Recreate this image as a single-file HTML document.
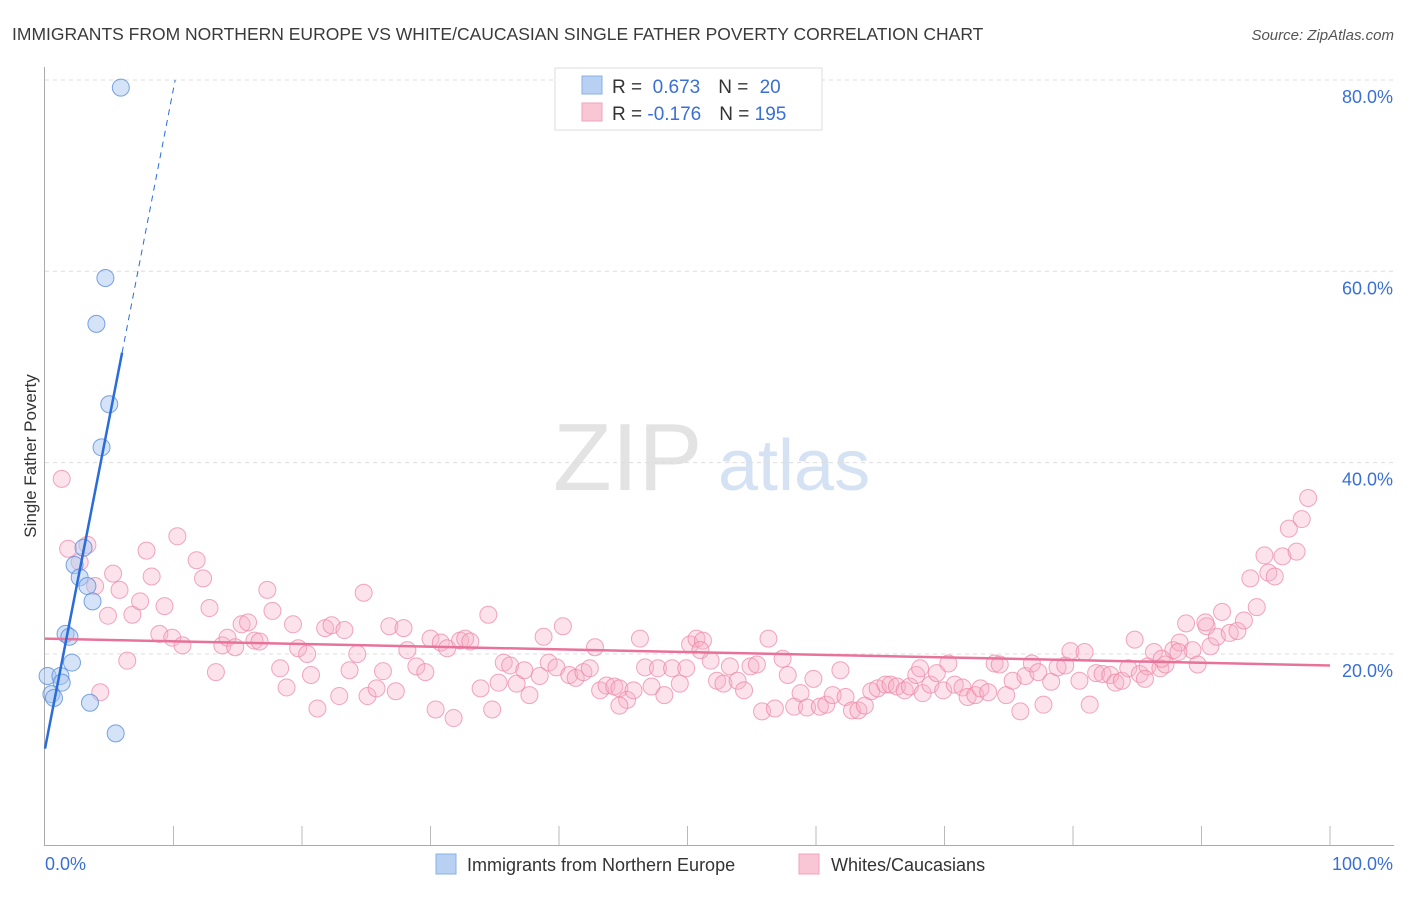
<!DOCTYPE html>
<html><head><meta charset="utf-8"><style>
body{margin:0;background:#fff;font-family:"Liberation Sans",sans-serif}
svg text{font-family:"Liberation Sans",sans-serif}
</style></head><body>
<svg id="chart" width="1406" height="892" viewBox="0 0 1406 892" xmlns="http://www.w3.org/2000/svg">
<text x="12" y="40" font-size="17.5" fill="#3a3a3a">IMMIGRANTS FROM NORTHERN EUROPE VS WHITE/CAUCASIAN SINGLE FATHER POVERTY CORRELATION CHART</text>
<text x="1394" y="40" font-size="15" fill="#555" font-style="italic" text-anchor="end">Source: ZipAtlas.com</text>
<g>
<text x="553" y="490" font-size="96" fill="#e3e3e3" font-family="Liberation Serif,serif">ZIP</text>
<text x="718" y="490" font-size="72" fill="#d4e2f3">atlas</text>
</g>
<g id="grid"></g>
<g id="axes"></g>
<g id="pts"></g>
<g id="lines"></g>
<text x="36" y="456" font-size="17" fill="#333" text-anchor="middle" transform="rotate(-90 36 456)">Single Father Poverty</text>
<g>
<rect x="555" y="68" width="267" height="62" fill="#fff" stroke="#ddd"/>
<rect x="582" y="76" width="20" height="18" fill="#b8d1f3" stroke="#8ab0e6"/>
<rect x="582" y="103" width="20" height="18" fill="#f9c6d5" stroke="#f2a3bb"/>
<text x="612" y="93" font-size="19" fill="#333">R = <tspan fill="#3a6fd6">&#160;0.673</tspan><tspan dx="18">N = </tspan><tspan fill="#3a6fd6" dx="6">20</tspan></text>
<text x="612" y="120" font-size="19" fill="#333">R = <tspan fill="#3a6fd6">-0.176</tspan><tspan dx="18">N = </tspan><tspan fill="#3a6fd6">195</tspan></text>
</g>
<g>
<rect x="436" y="854" width="20" height="20" fill="#b8d1f3" stroke="#8ab0e6"/>
<text x="467" y="871" font-size="18" fill="#333">Immigrants from Northern Europe</text>
<rect x="799" y="854" width="20" height="20" fill="#f9c6d5" stroke="#f2a3bb"/>
<text x="831" y="871" font-size="18" fill="#333">Whites/Caucasians</text>
</g>
</svg>
<script>
const blueX=[5.9,4.7,4.0,5.0,4.4,3.0,2.3,2.7,3.3,3.7,1.6,1.9,2.1,0.2,1.2,1.3,0.5,0.7,3.5,5.5];
const blueY=[79.2,59.3,54.5,46.1,41.6,31.1,29.3,28.0,27.1,25.5,22.1,21.8,19.1,17.7,17.7,17.0,15.8,15.4,14.9,11.7];
const pinkX=[1.3,1.8,3.3,2.7,3.9,4.3,4.9,5.3,5.8,6.4,6.8,7.4,7.9,8.3,8.9,9.3,9.9,10.3,10.7,11.8,12.3,12.8,13.3,13.8,14.2,14.8,15.3,15.8,16.3,16.7,17.3,17.7,18.3,18.8,19.3,19.7,20.4,20.7,21.2,21.8,22.3,22.9,23.3,23.7,24.3,24.8,25.1,25.8,26.3,26.8,27.3,27.9,28.2,28.9,29.6,30.0,30.4,30.8,31.3,31.8,32.3,32.7,33.1,33.9,34.5,34.8,35.3,35.7,36.2,36.7,37.3,37.7,38.5,38.8,39.2,39.8,40.3,40.8,41.3,41.9,42.4,42.8,43.2,43.7,44.3,44.7,45.3,45.8,46.3,46.7,47.2,47.7,48.2,48.8,49.4,49.9,50.2,50.7,51.2,51.8,52.3,52.8,53.3,53.9,54.4,54.9,55.4,55.8,56.3,56.8,57.4,57.8,58.3,58.8,59.3,59.8,60.3,60.8,61.3,61.9,62.3,62.8,63.3,63.8,64.3,64.8,65.4,65.8,66.3,66.9,67.3,67.8,68.3,68.9,69.4,69.9,70.3,70.8,71.4,71.8,72.4,72.8,73.4,73.9,74.3,74.8,75.3,75.9,76.3,76.8,77.3,77.7,78.3,78.8,79.4,79.8,80.5,81.3,81.8,82.3,82.9,83.3,83.8,84.3,84.8,85.2,85.8,86.3,86.8,87.2,87.8,88.3,88.8,89.3,89.7,90.4,90.7,91.2,91.6,92.2,92.8,93.3,93.8,94.3,94.9,95.2,95.7,96.3,96.8,97.4,97.8,98.3,90.3,86.9,88.2,80.9,85.6,68.1,51.0,44.7];
const pinkY=[38.3,31.0,31.4,29.6,27.1,16.0,24.0,28.4,26.7,19.3,24.1,25.5,30.8,28.1,22.1,25.0,21.7,32.3,20.9,29.8,27.9,24.8,18.1,20.9,21.7,20.7,23.1,23.3,21.4,21.3,26.7,24.5,18.5,16.5,23.1,20.6,20.0,17.8,14.3,22.7,23.0,15.6,22.5,18.3,20.0,26.4,15.6,16.4,18.2,22.9,16.1,22.7,20.4,18.7,18.1,21.6,14.2,21.2,20.6,13.3,21.4,21.6,21.3,16.4,24.1,14.2,17.0,19.1,18.8,16.9,18.3,15.7,17.7,21.8,19.1,18.6,22.9,17.8,17.5,18.1,18.5,20.7,16.2,16.7,16.6,16.4,15.2,16.2,21.6,18.6,16.6,18.5,15.7,18.5,16.9,18.5,21.0,21.6,21.4,19.3,17.2,16.9,18.7,17.2,16.2,18.7,18.9,14.0,21.6,14.3,19.5,17.8,14.5,15.9,14.4,17.4,14.5,14.7,15.7,18.3,15.5,14.1,14.1,14.6,16.1,16.4,16.8,16.8,16.6,16.2,16.6,17.8,15.9,16.8,18.0,16.2,19.0,16.8,16.5,15.5,15.7,16.4,16.0,19.0,18.9,15.7,17.2,14.0,17.7,19.0,18.1,14.7,17.1,18.6,18.8,20.3,17.2,14.7,18.0,17.9,17.8,17.0,17.2,18.5,21.5,17.9,18.7,20.2,18.5,18.9,20.4,21.2,23.2,20.4,18.9,22.9,20.8,21.8,24.4,22.2,22.4,23.5,27.9,24.9,30.3,28.5,28.1,30.2,33.1,30.7,34.1,36.3,23.3,19.5,20.2,20.2,17.4,18.5,20.4,14.6];
const yTicks=[20,40,60,80];
const xTickLabels=["0.0%","100.0%"];
const blueFit=[10.1,6.9];   // intercept, slope
const pinkFit=[21.6,-0.028];

const NS="http://www.w3.org/2000/svg";
const X=v=>45+v*12.85, Y=v=>845.3-v*9.567;
function mk(t,a,p){const e=document.createElementNS(NS,t);for(const k in a)e.setAttribute(k,a[k]);p.appendChild(e);return e;}
const grid=document.getElementById('grid'),axes=document.getElementById('axes'),pts=document.getElementById('pts'),lines=document.getElementById('lines');
yTicks.forEach(t=>{
 const l=mk('line',{x1:45,x2:1394,y1:Y(t),y2:Y(t),stroke:'#ddd','stroke-dasharray':'4,4'},grid);
 
 
 const tx=mk('text',{x:1393,y:Y(t)+23,'font-size':18,fill:'#3a6fd6','text-anchor':'end'},grid);
 tx.textContent=t.toFixed(1)+'%';
 
 
});
const ya=mk('line',{x1:44.5,x2:44.5,y1:67,y2:845,stroke:'#aaa'},axes);


const xa=mk('line',{x1:44,x2:1394,y1:845.5,y2:845.5,stroke:'#aaa'},axes);


for(let i=1;i<=10;i++){
 const tk=mk('line',{x1:X(i*10),x2:X(i*10),y1:826,y2:845,stroke:'#bbb'},axes);
 
 
}
const xl0=mk('text',{x:45,y:870,'font-size':18,fill:'#3a6fd6'},axes);xl0.textContent=xTickLabels[0];


const xl1=mk('text',{x:1393,y:870,'font-size':18,fill:'#3a6fd6','text-anchor':'end'},axes);xl1.textContent=xTickLabels[1];


pinkX.forEach((x,i)=>{
 const c=mk('circle',{cx:X(x),cy:Y(pinkY[i]),r:8.5,fill:'rgba(247,176,198,0.35)',stroke:'rgba(236,130,162,0.7)','stroke-width':1},pts);
 
 
});
blueX.forEach((x,i)=>{
 const c=mk('circle',{cx:X(x),cy:Y(blueY[i]),r:8.5,fill:'rgba(170,199,240,0.5)',stroke:'rgba(90,140,220,0.8)','stroke-width':1},pts);
 
 
});
const pl=mk('line',{x1:X(0),y1:Y(pinkFit[0]),x2:X(100),y2:Y(pinkFit[0]+pinkFit[1]*100),stroke:'#e8739a','stroke-width':2.5},lines);


const bl=mk('line',{x1:X(0),y1:Y(blueFit[0]),x2:X(6),y2:Y(blueFit[0]+blueFit[1]*6),stroke:'#2a6cd8','stroke-width':2.5},lines);


const xe=(80-blueFit[0])/blueFit[1];
const bd=mk('line',{x1:X(6),y1:Y(blueFit[0]+blueFit[1]*6),x2:X(xe),y2:Y(80),stroke:'#2a6cd8','stroke-width':1,'stroke-dasharray':'6,5'},lines);


</script>
</body></html>
